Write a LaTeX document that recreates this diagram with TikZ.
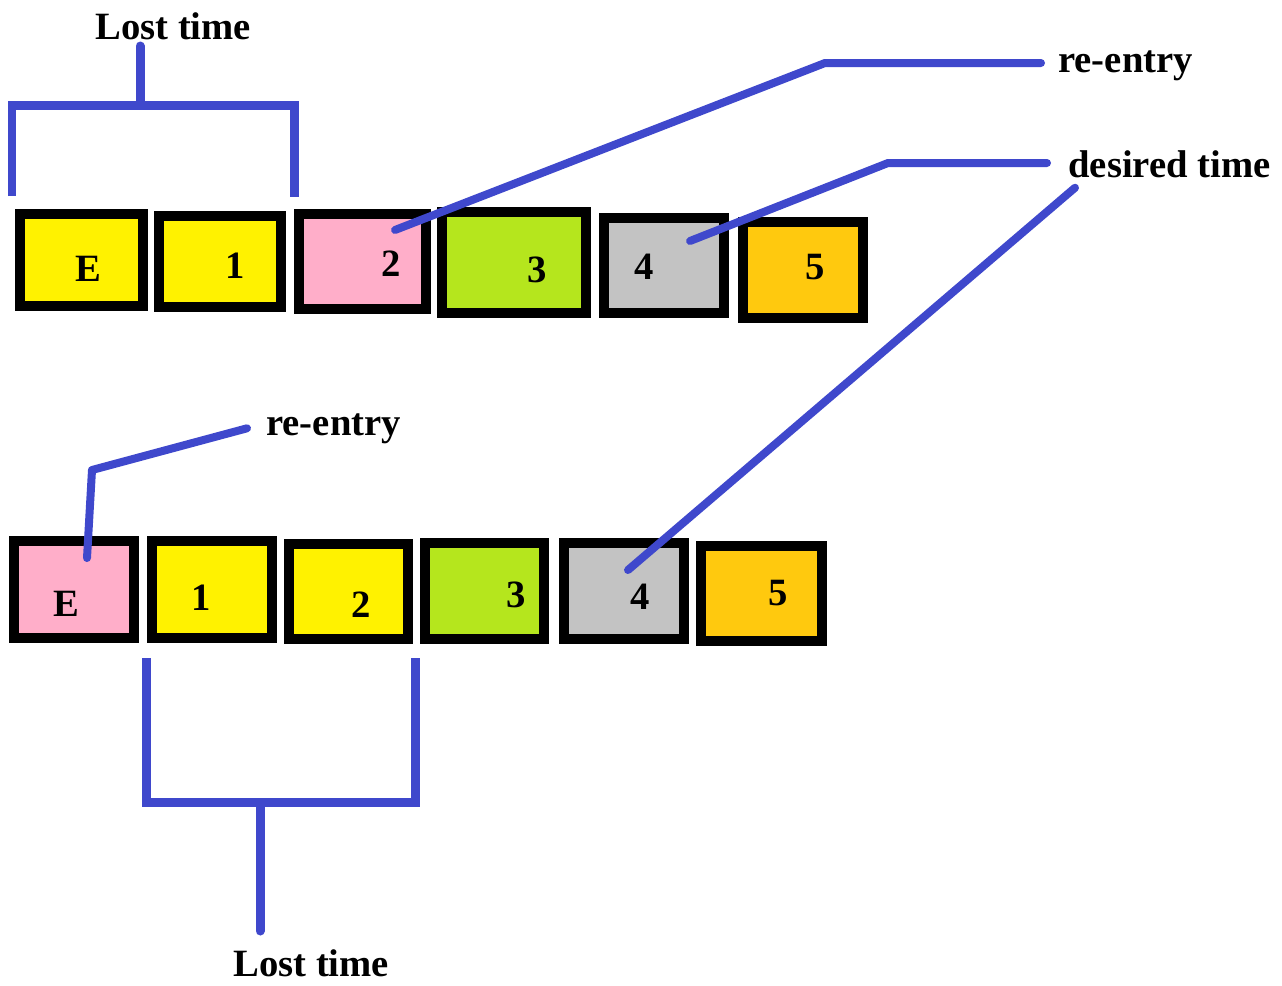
\documentclass[tikz,border=0pt]{standalone}
\usepackage{fontspec}
\setmainfont{Liberation Serif}
\usetikzlibrary{positioning}

\definecolor{pyellow}{RGB}{255,242,0}
\definecolor{ppink}{RGB}{255,174,201}
\definecolor{pgreen}{RGB}{181,230,29}
\definecolor{pgray}{RGB}{195,195,195}
\definecolor{porange}{RGB}{255,201,14}
\definecolor{pblue}{RGB}{63,72,204}

\begin{document}
\begin{tikzpicture}[x=0.02cm, y=-0.02cm,
      box/.style={rectangle, draw=black, line width=0.2cm, inner sep=0pt},
      num/.style={font=\fontsize{22}{26}\selectfont\bfseries, inner sep=0pt},
      lbl/.style={font=\fontsize{22}{26}\selectfont\bfseries, inner sep=0pt,
        anchor=base west},
      lead/.style={draw=pblue, line width=0.16cm, line cap=round,
        line join=round},
      brk/.style={draw=pblue, line width=0.18cm}
    ]
    \useasboundingbox (0,0) rectangle (1282,985);
    % === Row 1: slots, entry too late ===
    \node[box, fill=pyellow, minimum width=2.46cm, minimum height=1.84cm]
    (tE) at (81.5,260) {};
    \node[box, fill=pyellow, minimum width=2.44cm, minimum height=1.82cm]
    (t1) at (220,261.5) {};
    \node[box, fill=ppink, minimum width=2.54cm, minimum height=1.90cm]
    (t2) at (362.5,261.5) {};
    \node[box, fill=pgreen, minimum width=2.88cm, minimum height=2.02cm]
    (t3) at (514,262.5) {};
    \node[box, fill=pgray, minimum width=2.40cm, minimum height=1.90cm]
    (t4) at (664,265.5) {};
    \node[box, fill=porange, minimum width=2.40cm, minimum height=1.92cm]
    (t5) at (803,270) {};
    % slot numbers
    \node[num] (ntE) at (88,269) {E};
    \node[num] (nt1) at (235,266) {1};
    \node[num] (nt2) at (391,264) {2};
    \node[num] (nt3) at (537,270) {3};
    \node[num] (nt4) at (644,267) {4};
    \node[num] (nt5) at (815,267) {5};
    % === Row 2: slots, entry on time ===
    \node[box, fill=ppink, minimum width=2.40cm, minimum height=1.94cm]
    (bE) at (74,589.5) {};
    \node[box, fill=pyellow, minimum width=2.40cm, minimum height=1.94cm]
    (b1) at (212,589.5) {};
    \node[box, fill=pyellow, minimum width=2.38cm, minimum height=1.90cm]
    (b2) at (348.5,591.5) {};
    \node[box, fill=pgreen, minimum width=2.38cm, minimum height=1.92cm]
    (b3) at (484.5,591) {};
    \node[box, fill=pgray, minimum width=2.40cm, minimum height=1.92cm]
    (b4) at (624,591) {};
    \node[box, fill=porange, minimum width=2.42cm, minimum height=1.90cm]
    (b5) at (761.5,593.5) {};
    % slot numbers
    \node[num] (nbE) at (66,604) {E};
    \node[num] (nb1) at (201,598) {1};
    \node[num] (nb2) at (361,605) {2};
    \node[num] (nb3) at (516,595) {3};
    \node[num] (nb4) at (640,597) {4};
    \node[num] (nb5) at (778,593) {5};
    % === Text labels ===
    \node[lbl] (lostTop) at (95,39) {Lost time};
    \node[lbl] (reTop) at (1058,72) {re-entry};
    \node[lbl] (dTime) at (1068,177) {desired time};
    \node[lbl] (reBot) at (266,435) {re-entry};
    \node[lbl] (lostBot) at (233,976) {Lost time};
    % === Leader lines ===
    \coordinate (p2) at (395,230);
    \coordinate (c2) at (825,63);
    \coordinate (p4) at (690,241);
    \coordinate (c4) at (888,163);
    \coordinate (q4) at (628,570);
    \coordinate (qE) at (87,558);
    \coordinate (cE) at (92,470);
    \draw[lead] (p2) -- (c2) -- ([xshift=-0.34cm]reTop.west |- c2);
    \draw[lead] (p4) -- (c4) -- ([xshift=-0.42cm]dTime.west |- c4);
    \draw[lead] ([shift={(7,10)}]dTime.south west) -- (q4);
    \draw[lead] (qE) -- (cE) -- ([xshift=-0.38cm]reBot.west);
    % === Brackets: lost time ===
    \draw[brk] (12,196) -- (12,105) -- (294.5,105) -- (294.5,197);
    \draw[brk, line cap=round] (140,105) -- (140,46);
    \draw[brk] (146.5,658) -- (146.5,802.5) -- (415,802.5) -- (415,658);
    \draw[brk, line cap=round] (260,802.5) -- (260,931);
  \end{tikzpicture}
\end{document}
